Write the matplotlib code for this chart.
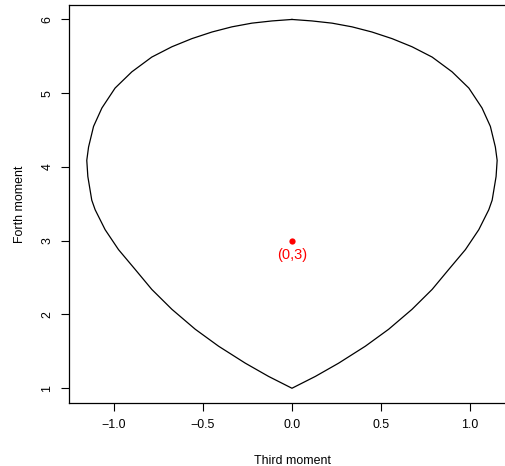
import matplotlib
matplotlib.use("Agg")
import matplotlib.pyplot as plt

# boundary, clockwise from the top (0, 6)
third = [0.0, 0.112, 0.225, 0.337, 0.449, 0.562, 0.674, 0.787, 0.899, 0.993, 1.067,
         1.114, 1.142, 1.152, 1.146, 1.124, 1.105, 1.049, 0.974, 0.880, 0.787, 0.674,
         0.543, 0.412, 0.262, 0.131, 0.0,
         -0.131, -0.262, -0.412, -0.543, -0.674, -0.787, -0.880, -0.974, -1.049,
         -1.105, -1.124, -1.146, -1.152, -1.142, -1.114, -1.067, -0.993, -0.899,
         -0.787, -0.674, -0.562, -0.449, -0.337, -0.225, -0.112, 0.0]
fourth = [6.0, 5.98, 5.95, 5.90, 5.83, 5.74, 5.63, 5.49, 5.29, 5.07, 4.80,
          4.55, 4.27, 4.09, 3.87, 3.55, 3.42, 3.15, 2.88, 2.61, 2.34, 2.07,
          1.80, 1.57, 1.34, 1.16, 1.0,
          1.16, 1.34, 1.57, 1.80, 2.07, 2.34, 2.61, 2.88, 3.15,
          3.42, 3.55, 3.87, 4.09, 4.27, 4.55, 4.80, 5.07, 5.29,
          5.49, 5.63, 5.74, 5.83, 5.90, 5.95, 5.98, 6.0]

pt_x, pt_y = [0], [3]
pt_label = "(0,3)"
xticks = [-1.0, -0.5, 0.0, 0.5, 1.0]
yticks = [1, 2, 3, 4, 5, 6]

plt.rcParams['font.family'] = ['Liberation Sans', 'DejaVu Sans']

fig = plt.figure(figsize=(5.06, 4.66), dpi=100)
ax = fig.add_axes([0.137, 0.1352, 0.880, 0.8547])

ax.plot(third, fourth, color='black', lw=0.9)
ax.plot(pt_x, pt_y, 'o', color='#ff0000', ms=4.5, mec='none')
ax.annotate(pt_label, (pt_x[0], pt_y[0]), xytext=(0, -5), textcoords='offset points',
            ha='center', va='top', color='#ff0000', fontsize=10.5)

ax.set_xlim(-1.25, 1.25)
ax.set_ylim(0.8, 6.2)
ax.set_xticks(xticks)
ax.set_xticklabels(["\u22121.0", "\u22120.5", "0.0", "0.5", "1.0"])
ax.set_yticks(yticks)
ax.tick_params(direction='out', length=5.5, width=0.8, labelsize=8.9, pad=6)
ax.tick_params(axis='y', labelrotation=90)
for lab in ax.get_yticklabels():
    lab.set_va('center')
for s in ax.spines.values():
    s.set_linewidth(0.9)

ax.set_xlabel('Third moment', fontsize=8.9, labelpad=17)
ax.set_ylabel('Forth moment', fontsize=8.9, labelpad=11)

plt.savefig('out.png', dpi=100)
